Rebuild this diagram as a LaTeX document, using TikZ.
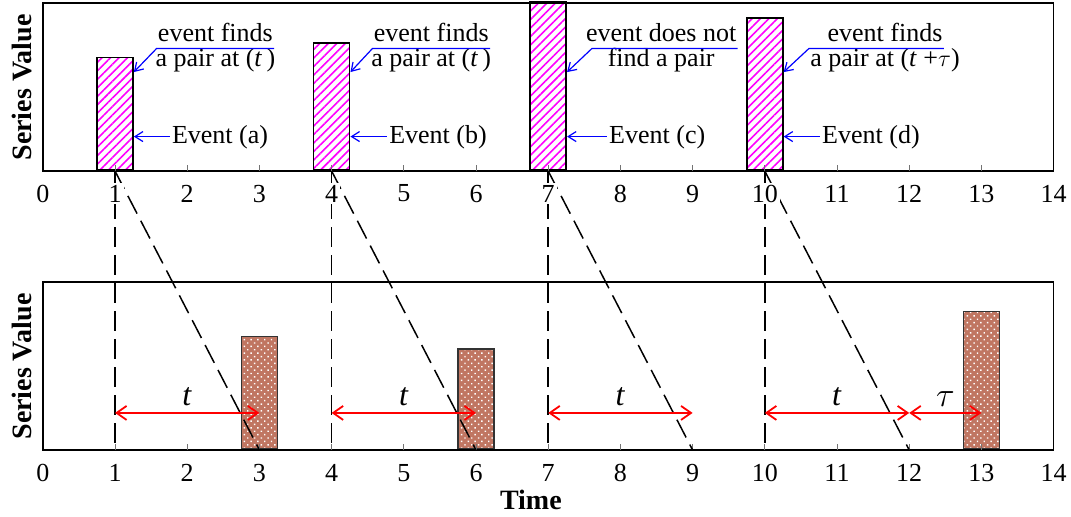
\documentclass[tikz,border=0pt]{standalone}
\usepackage{fontspec}
\setmainfont{Liberation Serif}
\usepackage{tikz}
\usetikzlibrary{arrows.meta, patterns.meta, positioning, calc}
\usepackage{xcolor}

\definecolor{hatchpink}{RGB}{255,0,255}
\definecolor{pairbrown}{RGB}{192,118,98}
\definecolor{noteblue}{RGB}{0,0,255}

\begin{document}
\begin{tikzpicture}[x=36.1pt, y=84pt,
  font=\fontsize{13}{15}\selectfont,
  panel/.style={draw, line width=0.7pt},
  tickmark/.style={draw=black!55, line width=0.5pt},
  ticklab/.style={fill=white, inner sep=1pt},
  axlab/.style={font=\fontsize{14}{16}\selectfont\bfseries},
  evbar/.style={draw, line width=0.8pt, anchor=south, inner sep=0pt,
    minimum width=18.05pt,
    pattern={Lines[angle=45, distance=3pt, line width=0.8pt]},
    pattern color=hatchpink},
  pairbar/.style={draw=black!80, line width=0.8pt, anchor=south, inner sep=0pt,
    minimum width=18.05pt, preaction={fill=pairbrown},
    pattern={Dots[angle=45, distance=2.4pt, radius=0.5pt]},
    pattern color=white},
  note/.style={inner sep=0.5pt, text height=9.5pt, text depth=3pt},
  callout/.style={draw=noteblue, line width=0.6pt, ->,
    >={Straight Barb[length=4pt, width=5pt]}},
  link/.style={line width=0.75pt, dash pattern=on 10pt off 4pt},
  gap/.style={draw=red, line width=0.9pt, <->,
    >={Straight Barb[length=5pt, width=7pt]}},
  lag/.style={above, text=black, inner sep=3pt, font=\fontsize{16}{18}\selectfont}
]
\useasboundingbox (-0.593,1.018) rectangle (14.241,-2.054);

% axis points
\foreach \i in {0,...,14} {
  \coordinate (up\i) at (\i,0);
  \coordinate (lo\i) at (\i,-1.6607);
  \coordinate (ar\i) at (\i,-1.44);
}

% event bars (top) and pair bars (bottom)
\node[evbar, minimum height=56.3pt] (ea) at (up1) {};
\node[evbar, minimum height=63.5pt] (eb) at (up4) {};
\node[evbar, minimum height=84pt]   (ec) at (up7) {};
\node[evbar, minimum height=76pt]   (ed) at (up10) {};

\node[pairbar, minimum height=56.3pt] (pa) at (lo3) {};
\node[pairbar, minimum height=50pt]   (pb) at (lo6) {};
\node[pairbar, minimum height=68.9pt] (pd) at (lo13) {};

% panels
\draw[panel] (0,0) rectangle (14,1);
\draw[panel] (0,-1.6607) rectangle (14,-0.6607);
\foreach \i in {1,...,13} {
  \draw[tickmark] (up\i) -- ++(0,0.036);
  \draw[tickmark] (lo\i) -- ++(0,0.036);
}

% time links between the panels
\foreach \s [evaluate=\s as \e using int(\s+2)] in {1,4,7,10} {
  \draw[link] (up\s) -- (lo\s);
  \draw[link] (up\s) -- (lo\e);
}

% tick labels
\foreach \i in {0,...,14} {
  \node[ticklab] (tu\i) at (\i,-0.134) {\i};
  \node[ticklab] (tl\i) at (\i,-1.797) {\i};
}

% axis labels
\node[axlab, rotate=90] (yup) at (-0.288,0.497) {Series Value};
\node[axlab, rotate=90] (ylo) at (-0.288,-1.164) {Series Value};
\node[axlab] (xlab) at (6.76,-1.958) {Time};

% callouts
\node[note] (na1) at (2.39,0.812) {event finds};
\node[note] (na2) at (2.39,0.658) {a pair at (\textit{t}\,)};
\node[note] (nb1) at (5.38,0.812) {event finds};
\node[note] (nb2) at (5.38,0.658) {a pair at (\textit{t}\,)};
\node[note] (nc1) at (8.565,0.812) {event does not};
\node[note] (nc2) at (8.565,0.658) {find a pair};
\node[note] (nd1) at (11.665,0.812) {event finds};
\node[note] (nd2) at (11.665,0.658) {a pair at (\textit{t} +$\tau$)};

\draw[callout] (na1.south east) -- (na1.south west) -- ($(ea.south east)+(0,0.589)$);
\draw[callout] (nb1.south east) -- (nb1.south west) -- ($(eb.south east)+(0,0.589)$);
\draw[callout] (nc1.south east) -- ($(nc1.south west)+(0.1,0)$) -- ($(ec.south east)+(0,0.589)$);
\draw[callout] (nd1.south east) -- (nd2.north west |- nd1.south) -- ($(ed.south east)+(0,0.589)$);

\node[note, inner sep=1pt] (la) at (2.455,0.205) {Event (a)};
\node[note, inner sep=1pt] (lb) at (5.474,0.205) {Event (b)};
\node[note, inner sep=1pt] (lc) at (8.51,0.205) {Event (c)};
\node[note, inner sep=1pt] (ld) at (11.47,0.205) {Event (d)};
\draw[callout] (la.west) -- (la.west -| ea.east);
\draw[callout] (lb.west) -- (lb.west -| eb.east);
\draw[callout] (lc.west) -- (lc.west -| ec.east);
\draw[callout] (ld.west) -- (ld.west -| ed.east);

% lag arrows
\draw[gap] (ar1) -- node[lag] {\textit{t}} (ar3);
\draw[gap] (ar4) -- node[lag] {\textit{t}} (ar6);
\draw[gap] (ar7) -- node[lag] {\textit{t}} (ar9);
\draw[gap] (ar10) -- node[lag] {\textit{t}} (ar12);
\draw[gap] (ar12) -- node[lag] {$\tau$} (ar13);
\end{tikzpicture}
\end{document}
